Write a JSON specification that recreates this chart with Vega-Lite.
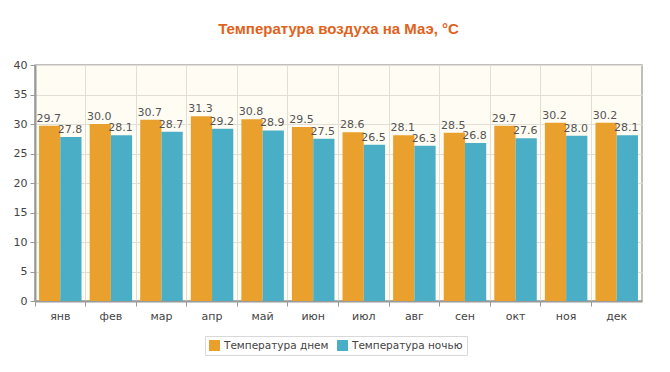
{
  "$schema": "https://vega.github.io/schema/vega-lite/v6.json",
  "autosize": {"type": "none"},
  "width": 607,
  "height": 236,
  "padding": {"left": 35, "top": 65, "right": 28, "bottom": 71},
  "background": "#ffffff",
  "title": {
    "text": "Температура воздуха на Маэ, °C",
    "font": "Liberation Sans",
    "fontSize": 15,
    "fontWeight": "bold",
    "color": "#E0621B",
    "anchor": "middle",
    "offset": 22
  },
  "data": {
    "values": [
      {"month": "янв", "series": "Температура днем", "value": 29.7},
      {"month": "янв", "series": "Температура ночью", "value": 27.8},
      {"month": "фев", "series": "Температура днем", "value": 30.0},
      {"month": "фев", "series": "Температура ночью", "value": 28.1},
      {"month": "мар", "series": "Температура днем", "value": 30.7},
      {"month": "мар", "series": "Температура ночью", "value": 28.7},
      {"month": "апр", "series": "Температура днем", "value": 31.3},
      {"month": "апр", "series": "Температура ночью", "value": 29.2},
      {"month": "май", "series": "Температура днем", "value": 30.8},
      {"month": "май", "series": "Температура ночью", "value": 28.9},
      {"month": "июн", "series": "Температура днем", "value": 29.5},
      {"month": "июн", "series": "Температура ночью", "value": 27.5},
      {"month": "июл", "series": "Температура днем", "value": 28.6},
      {"month": "июл", "series": "Температура ночью", "value": 26.5},
      {"month": "авг", "series": "Температура днем", "value": 28.1},
      {"month": "авг", "series": "Температура ночью", "value": 26.3},
      {"month": "сен", "series": "Температура днем", "value": 28.5},
      {"month": "сен", "series": "Температура ночью", "value": 26.8},
      {"month": "окт", "series": "Температура днем", "value": 29.7},
      {"month": "окт", "series": "Температура ночью", "value": 27.6},
      {"month": "ноя", "series": "Температура днем", "value": 30.2},
      {"month": "ноя", "series": "Температура ночью", "value": 28.0},
      {"month": "дек", "series": "Температура днем", "value": 30.2},
      {"month": "дек", "series": "Температура ночью", "value": 28.1}
    ]
  },
  "encoding": {
    "x": {
      "field": "month",
      "type": "nominal",
      "sort": null,
      "scale": {"paddingInner": 0.16, "paddingOuter": 0.08},
      "axis": {
        "title": null,
        "labelAngle": 0,
        "bandPosition": -0.095,
        "grid": true,
        "gridColor": "#e2ded4",
        "domainColor": "#999999",
        "domainWidth": 2,
        "tickColor": "#999999",
        "tickSize": 5,
        "labelFont": "DejaVu Sans",
        "labelFontSize": 11,
        "labelColor": "#444444",
        "labelPadding": 4
      }
    },
    "xOffset": {"field": "series", "type": "nominal"},
    "y": {
      "field": "value",
      "type": "quantitative",
      "scale": {"domain": [0, 40]},
      "axis": {
        "title": null,
        "values": [0, 5, 10, 15, 20, 25, 30, 35, 40],
        "grid": true,
        "gridColor": "#e2ded4",
        "domainColor": "#999999",
        "domainWidth": 2,
        "tickColor": "#999999",
        "tickSize": 5,
        "labelFont": "DejaVu Sans",
        "labelFontSize": 11,
        "labelColor": "#444444",
        "labelPadding": 3
      }
    },
    "color": {
      "field": "series",
      "type": "nominal",
      "scale": {"range": ["#E9A02C", "#4AAFC6"]},
      "legend": {
        "title": null,
        "orient": "none",
        "legendX": 170,
        "legendY": 271,
        "direction": "horizontal",
        "symbolType": "square",
        "symbolSize": 120,
        "symbolStrokeWidth": 0,
        "labelFont": "DejaVu Sans",
        "labelFontSize": 10.5,
        "labelColor": "#444444",
        "strokeColor": "#d8d8d8",
        "padding": 4,
        "columnPadding": 8
      }
    }
  },
  "layer": [
    {"mark": {"type": "bar"}},
    {
      "mark": {
        "type": "text",
        "baseline": "bottom",
        "dy": -2,
        "dx": -1,
        "font": "DejaVu Sans",
        "fontSize": 11,
        "color": "#555555"
      },
      "encoding": {
        "text": {"field": "value", "type": "quantitative", "format": ".1f"},
        "color": {"value": "#555555"}
      }
    }
  ],
  "config": {
    "view": {"fill": "#FFFCF3", "stroke": "#aaaaaa", "strokeWidth": 1.5}
  }
}
